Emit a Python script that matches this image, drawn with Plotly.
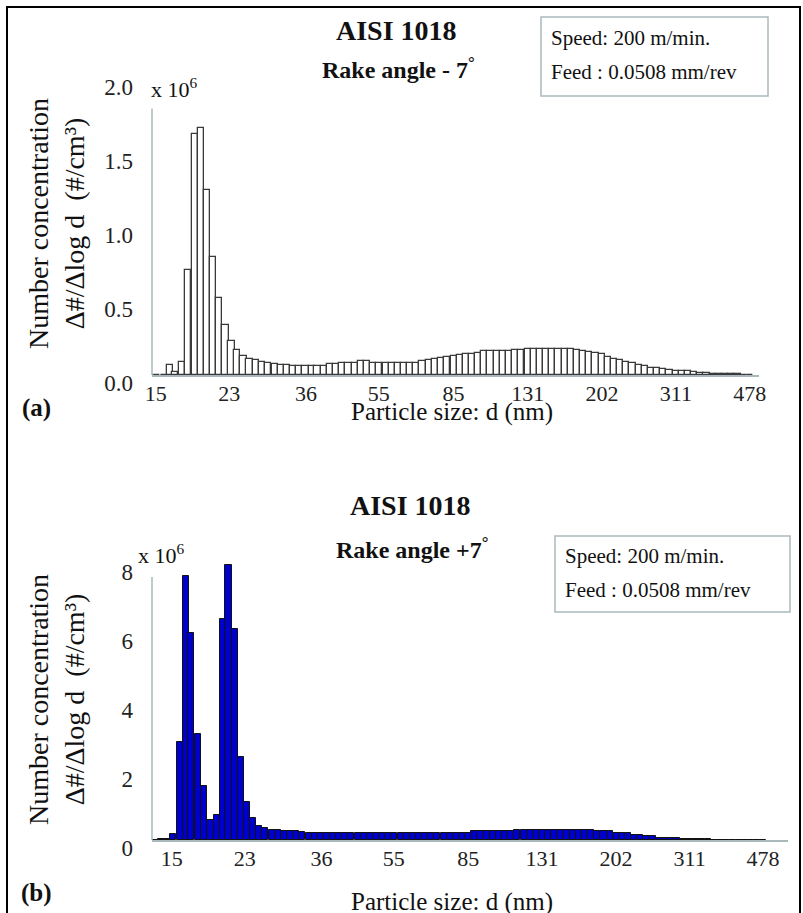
import numpy as np
import plotly.graph_objects as go

# ---- data -------------------------------------------------------------
diam_nm = [13.6, 14.1, 14.6, 15.1, 15.7, 16.3, 16.8, 17.5, 18.1, 18.8, 19.5, 20.2,
           20.9, 21.7, 22.5, 23.3, 24.1, 25.0, 25.9, 26.9, 27.9, 28.9, 30.0, 31.1,
           32.2, 33.4, 34.6, 35.9, 37.2, 38.5, 40.0, 41.4, 42.9, 44.5, 46.1, 47.8,
           49.6, 51.4, 53.3, 55.2, 57.3, 59.4, 61.5, 63.8, 66.1, 68.5, 71.0, 73.7,
           76.4, 79.1, 82.0, 85.1, 88.2, 91.4, 94.7, 98.2, 101.8, 105.5, 109.4, 113.4,
           117.6, 121.9, 126.3, 131.0, 135.8, 140.7, 145.9, 151.2, 156.8, 162.5, 168.5, 174.7,
           181.1, 187.7, 194.6, 201.7, 209.1, 216.7, 224.7, 232.9, 241.4, 250.3, 259.5, 269.0,
           278.8, 289.0, 299.6, 310.6, 322.0, 333.8, 346.0, 358.7, 371.8, 385.4, 399.5, 414.2,
           429.4, 445.1, 461.4, 478.3]

# (a) rake angle -7 deg, units of 1e6 #/cm3
conc_a = [0, 0, 0, 0, 0, 0.07, 0.02, 0.09, 0.71, 1.63, 1.67, 1.25,
          0.80, 0.52, 0.34, 0.23, 0.17, 0.13, 0.11, 0.10, 0.09, 0.08, 0.075, 0.07,
          0.065, 0.062, 0.062, 0.062, 0.062, 0.062, 0.062, 0.072, 0.072, 0.083, 0.083, 0.083,
          0.092, 0.092, 0.083, 0.083, 0.083, 0.083, 0.083, 0.083, 0.083, 0.083, 0.095, 0.10,
          0.105, 0.115, 0.12, 0.13, 0.135, 0.145, 0.145, 0.15, 0.16, 0.16, 0.162, 0.162,
          0.165, 0.168, 0.17, 0.176, 0.176, 0.176, 0.176, 0.176, 0.176, 0.176, 0.176, 0.168,
          0.165, 0.155, 0.15, 0.14, 0.125, 0.11, 0.10, 0.09, 0.08, 0.07, 0.06, 0.05,
          0.045, 0.04, 0.035, 0.03, 0.028, 0.024, 0.02, 0.015, 0.012, 0.01, 0.01, 0.008,
          0.008, 0.006, 0, 0]

# (b) rake angle +7 deg, units of 1e6 #/cm3
conc_b = [0, 0.03, 0.03, 0.16, 2.85, 7.65, 6.0, 3.06, 1.57, 0.58, 0.72, 6.4,
          7.97, 6.1, 2.4, 1.1, 0.63, 0.42, 0.35, 0.30, 0.29, 0.27, 0.26, 0.25,
          0.22, 0.19, 0.19, 0.19, 0.19, 0.19, 0.19, 0.19, 0.19, 0.19, 0.19, 0.19,
          0.19, 0.19, 0.19, 0.19, 0.19, 0.19, 0.19, 0.19, 0.19, 0.19, 0.19, 0.19,
          0.19, 0.19, 0.19, 0.19, 0.27, 0.27, 0.27, 0.27, 0.27, 0.27, 0.27, 0.29,
          0.29, 0.29, 0.29, 0.29, 0.29, 0.29, 0.29, 0.29, 0.29, 0.29, 0.29, 0.29,
          0.26, 0.26, 0.26, 0.19, 0.19, 0.19, 0.155, 0.155, 0.12, 0.12, 0.07, 0.07,
          0.07, 0.07, 0.03, 0.03, 0.03, 0.03, 0.03, 0, 0, 0, 0, 0,
          0, 0, 0, 0]

tick_labels_x = ["15", "23", "36", "55", "85", "131", "202", "311", "478"]
tick_vals_x = [15, 23, 36, 55, 85, 131, 202, 311, 478]
tick_labels_ya = ["0.0", "0.5", "1.0", "1.5", "2.0"]
tick_vals_ya = [0, 0.5, 1.0, 1.5, 2.0]
tick_labels_yb = ["0", "2", "4", "6", "8"]
tick_vals_yb = [0, 2, 4, 6, 8]

# ---- figure -----------------------------------------------------------
W, H = 803, 913
FONT = "Liberation Serif, Times New Roman, serif"
AXC = "#a9b9bb"

logd = np.log10(diam_nm)

fig = go.Figure()
fig.add_trace(go.Bar(x=logd, y=conc_a, width=1 / 64, xaxis="x", yaxis="y",
                     marker=dict(color="white", line=dict(color="#3a3a3a", width=1.3)),
                     showlegend=False))
fig.add_trace(go.Bar(x=logd, y=conc_b, width=1 / 64, xaxis="x2", yaxis="y2",
                     marker=dict(color="#0000cc", line=dict(color="#111111", width=1)),
                     showlegend=False))

def px(x):
    return x / W

def py(y):
    return 1 - y / H

common_x = dict(showline=True, linecolor=AXC, linewidth=1.5, showgrid=False, zeroline=False,
                ticks="", tickfont=dict(family=FONT, size=22, color="#222"),
                tickvals=list(np.log10(tick_vals_x)), ticktext=tick_labels_x,
                ticklabelstandoff=-2, automargin=False)
common_y = dict(showline=False, showgrid=False, zeroline=False, ticks="",
                tickfont=dict(family=FONT, size=23, color="#222"), ticklabelstandoff=18,
                ticklabelshift=8, automargin=False)

fig.update_layout(
    width=W, height=H, margin=dict(l=0, r=0, t=0, b=0, autoexpand=False),
    paper_bgcolor="white", plot_bgcolor="white", bargap=0,
    font=dict(family=FONT, color="#222"),
    xaxis=dict(domain=[px(152), px(759)], range=[1.16632, 2.70303], anchor="y", **common_x),
    yaxis=dict(domain=[py(375), py(79)], range=[0, 2.0], anchor="x",
               tickvals=tick_vals_ya, ticktext=tick_labels_ya, **common_y),
    xaxis2=dict(domain=[px(152), px(788)], range=[1.1256, 2.7427], anchor="y2", **common_x),
    yaxis2=dict(domain=[py(840), py(557)], range=[0, 8.2], anchor="x2",
                tickvals=tick_vals_yb, ticktext=tick_labels_yb, **common_y),
)

shapes = [
    # outer frame
    dict(type="rect", xref="paper", yref="paper", x0=px(7), x1=px(800), y0=-0.05, y1=py(7),
         line=dict(color="black", width=2)),
    # y-axis lines
    dict(type="line", xref="x domain", yref="y", x0=0, x1=0, y0=0, y1=1.8,
         line=dict(color=AXC, width=1.5)),
    dict(type="line", xref="x2 domain", yref="y2", x0=0, x1=0, y0=0, y1=7.62,
         line=dict(color=AXC, width=1.5)),
    # info boxes
    dict(type="rect", xref="paper", yref="paper", x0=px(541), x1=px(768), y0=py(96), y1=py(17),
         line=dict(color=AXC, width=1.5)),
    dict(type="rect", xref="paper", yref="paper", x0=px(555), x1=px(790), y0=py(612), y1=py(536),
         line=dict(color=AXC, width=1.5)),
]
fig.update_layout(shapes=shapes)

def ann(x, y, text, size=22, bold=False, angle=0, xanchor="center"):
    t = f"<b>{text}</b>" if bold else text
    fig.add_annotation(xref="paper", yref="paper", x=px(x), y=py(y), text=t, showarrow=False,
                       font=dict(family=FONT, size=size, color="#111"), textangle=angle,
                       xanchor=xanchor, yanchor="middle")

# panel (a)
ann(396, 30, "AISI 1018", 28, True)
ann(398, 68, "Rake angle - 7<sup>°</sup>", 24, True)
ann(549, 38, "Speed: 200 m/min.", 21, xanchor="left")
ann(549, 72, "Feed : 0.0508 mm/rev", 21, xanchor="left")
ann(149, 88, "x 10<sup>6</sup>", 22, xanchor="left")
ann(56, 224, "Number concentration<br>Δ#/Δlog d  (#/cm³)", 28, angle=-90)
ann(36, 408, "(a)", 25, True)
ann(452, 412, "Particle size: d (nm)", 25)

# panel (b)
ann(410, 505, "AISI 1018", 28, True)
ann(412, 548, "Rake angle +7<sup>°</sup>", 24, True)
ann(563, 556, "Speed: 200 m/min.", 21, xanchor="left")
ann(563, 590, "Feed : 0.0508 mm/rev", 21, xanchor="left")
ann(136, 554, "x 10<sup>6</sup>", 22, xanchor="left")
ann(56, 700, "Number concentration<br>Δ#/Δlog d  (#/cm³)", 28, angle=-90)
ann(36, 893, "(b)", 25, True)
ann(452, 902, "Particle size: d (nm)", 25)

fig.write_html("out.html", config={"displayModeBar": False},
               post_script="document.body.style.margin='0';document.body.style.padding='0';"
                           "document.documentElement.style.overflow='hidden';")
